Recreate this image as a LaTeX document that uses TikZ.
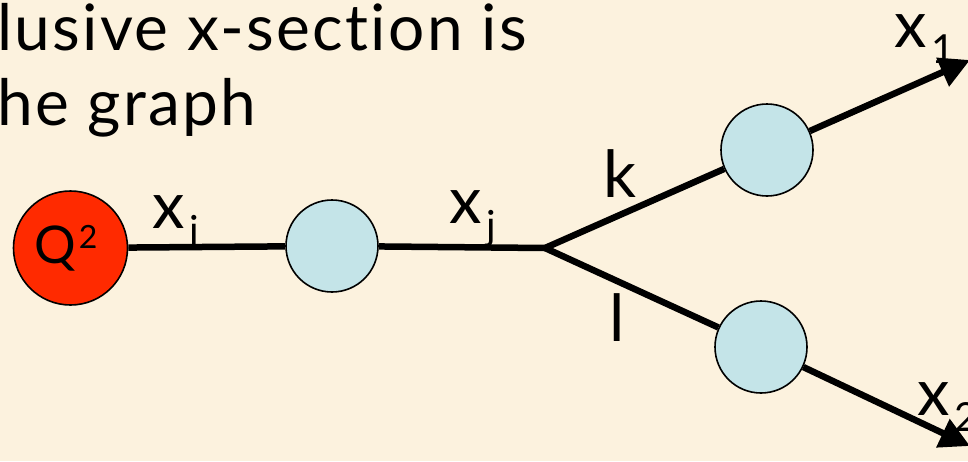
\documentclass[tikz,border=0pt]{standalone}
\usepackage{fontspec}
\setmainfont{Lato}[RawFeature=-liga]
\newfontfamily\headfont{Lato}[LetterSpace=3.6,RawFeature=-liga]
\usetikzlibrary{arrows.meta}
\definecolor{bgc}{RGB}{252,242,222}
\definecolor{redc}{RGB}{255,42,0}
\definecolor{bluec}{RGB}{196,228,232}
\newcommand\mysub[2]{#1\hspace{5pt}\raisebox{-16pt}{\fontsize{40}{40}\selectfont #2}}
\newcommand\mysup[2]{#1\hspace{3pt}\raisebox{15pt}{\fontsize{32}{32}\selectfont #2}}
\tikzset{
  blob/.style={circle,draw=black,line width=1.6pt,fill=bluec,minimum size=92pt,inner sep=0pt},
  qblob/.style={circle,draw=black,line width=1.6pt,fill=redc,minimum size=114pt,inner sep=0pt},
  edge/.style={line width=6.5pt},
  arr/.style={line width=6.5pt,-{Triangle[length=30pt,width=30pt]}},
  lbl/.style={font=\fontsize{65}{65}\selectfont,inner sep=0pt,anchor=base west},
  txt/.style={font=\headfont\fontsize{64}{72}\selectfont,inner sep=0pt,anchor=base west}
}
\begin{document}
\begin{tikzpicture}[x=1pt,y=-1pt]
\fill[bgc] (0,0) rectangle (968,461);
\useasboundingbox (0,0) rectangle (968,461);
\node[txt] (t1) at (-3,50) {lusive x-section is};
\node[txt] (t2) at (-3,125) {he graph};
\node[qblob] (q) at (70.5,248) {};
\node[anchor=base west,inner sep=0pt,font=\fontsize{52}{52}\selectfont] (qt) at (34,263) {\mysup{Q}{2}};
\node[blob] (b1) at (332,246) {};
\coordinate (v) at (545,248);
\node[blob] (b2) at (767,150) {};
\node[blob] (b3) at (761,347) {};
\coordinate (e1) at (970,60);
\coordinate (e2) at (970,446);
\draw[edge] (q) -- (b1);
\draw[edge] (b1) -- (v);
\draw[edge] (v) -- (b2);
\draw[edge] (v) -- (b3);
\draw[arr] (b2) -- (e1);
\draw[arr] (b3) -- (e2);
\node[lbl] (li) at (152,228) {\mysub{x}{i}};
\node[lbl] (lj) at (449,223) {\mysub{x}{j}};
\node[lbl] (lk) at (603,197) {k};
\node[lbl] (ll) at (609,341) {l};
\node[lbl] (l1) at (894,47) {\mysub{x}{1}};
\node[lbl] (l2) at (917,415) {\mysub{x}{2}};
\end{tikzpicture}
\end{document}
